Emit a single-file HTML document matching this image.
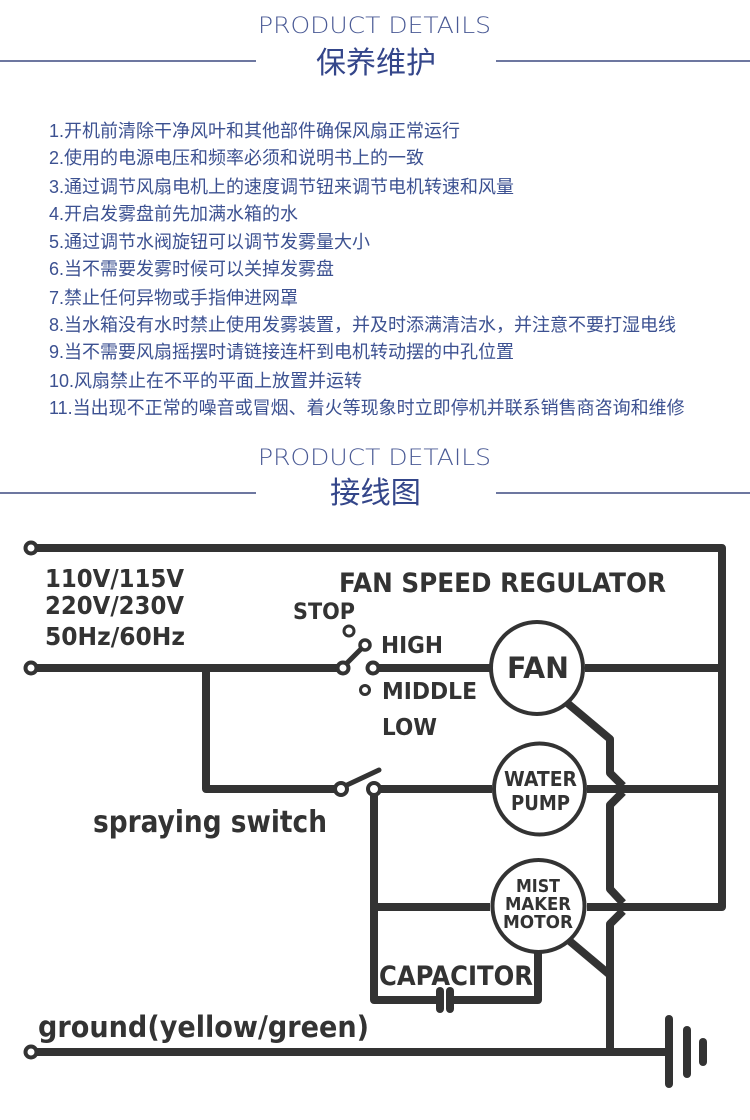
<!DOCTYPE html>
<html>
<head>
<meta charset="utf-8">
<style>
html,body{margin:0;padding:0;background:#fff;}
svg{display:block;}
.hd{font-family:"DejaVu Sans","Liberation Sans",sans-serif;font-weight:200;fill:#4a5a95;}
.cn{font-family:"Liberation Sans","Noto Sans CJK SC",sans-serif;fill:#34468a;}
.li{font-family:"Liberation Sans","Noto Sans CJK SC",sans-serif;font-size:18px;fill:#3c5191;}
.lb{font-family:"DejaVu Sans","Liberation Sans",sans-serif;font-weight:bold;fill:#333;}
</style>
</head>
<body>
<svg width="750" height="1120" viewBox="0 0 750 1120" xmlns="http://www.w3.org/2000/svg">
<rect width="750" height="1120" fill="#fff"/>

<!-- Header 1 -->
<text class="hd" x="258" y="33" font-size="22" textLength="233" lengthAdjust="spacingAndGlyphs">PRODUCT DETAILS</text>
<line x1="0" y1="61" x2="256" y2="61" stroke="#3d4a80" stroke-width="1.6"/>
<line x1="496" y1="61" x2="750" y2="61" stroke="#3d4a80" stroke-width="1.6"/>
<text class="cn" x="316" y="73" font-size="30" textLength="120" lengthAdjust="spacingAndGlyphs">保养维护</text>

<!-- List -->
<text class="li" x="49" y="137">1.开机前清除干净风叶和其他部件确保风扇正常运行</text>
<text class="li" x="49" y="164">2.使用的电源电压和频率必须和说明书上的一致</text>
<text class="li" x="49" y="193">3.通过调节风扇电机上的速度调节钮来调节电机转速和风量</text>
<text class="li" x="49" y="220">4.开启发雾盘前先加满水箱的水</text>
<text class="li" x="49" y="248">5.通过调节水阀旋钮可以调节发雾量大小</text>
<text class="li" x="49" y="275">6.当不需要发雾时候可以关掉发雾盘</text>
<text class="li" x="49" y="304">7.禁止任何异物或手指伸进网罩</text>
<text class="li" x="49" y="331">8.当水箱没有水时禁止使用发雾装置，并及时添满清洁水，并注意不要打湿电线</text>
<text class="li" x="49" y="358">9.当不需要风扇摇摆时请链接连杆到电机转动摆的中孔位置</text>
<text class="li" x="49" y="387">10.风扇禁止在不平的平面上放置并运转</text>
<text class="li" x="49" y="414">11.当出现不正常的噪音或冒烟、着火等现象时立即停机并联系销售商咨询和维修</text>

<!-- Header 2 -->
<text class="hd" x="258" y="465" font-size="22" textLength="233" lengthAdjust="spacingAndGlyphs">PRODUCT DETAILS</text>
<line x1="0" y1="493" x2="256" y2="493" stroke="#3d4a80" stroke-width="1.6"/>
<line x1="496" y1="493" x2="750" y2="493" stroke="#3d4a80" stroke-width="1.6"/>
<text class="cn" x="330" y="503" font-size="30" textLength="91" lengthAdjust="spacingAndGlyphs">接线图</text>

<!-- Diagram wires -->
<g fill="none" stroke="#333" stroke-width="8" stroke-linejoin="round">
  <!-- top wire + right vertical -->
  <path d="M31 548 L722 548 L722 907 L587 907"/>
  <!-- second wire -->
  <line x1="31" y1="668" x2="343" y2="668"/>
  <line x1="373" y1="668" x2="490" y2="668"/>
  <line x1="585" y1="668" x2="722" y2="668"/>
  <!-- branch to spraying switch -->
  <path d="M206 668 L206 789 L341 789"/>
  <line x1="374" y1="789" x2="492" y2="789"/>
  <line x1="587" y1="789" x2="722" y2="789"/>
  <!-- capacitor loop -->
  <path d="M374 789 L374 1000 L437 1000"/>
  <path d="M452 1000 L538 1000 L538 950"/>
  <line x1="374" y1="907" x2="490" y2="907"/>
  <!-- common wire with kinks -->
  <path d="M566 702 L610 739 L610 773 L623 786"/>
  <path d="M623 792 L610 805 L610 889 L623 903"/>
  <path d="M623 911 L610 924 L610 1052"/>
  <line x1="566" y1="938" x2="610" y2="975"/>
  <!-- ground line -->
  <line x1="31" y1="1052" x2="669" y2="1052"/>
</g>

<!-- ground symbol -->
<g stroke="#333" stroke-width="8" stroke-linecap="round">
  <line x1="669" y1="1019" x2="669" y2="1084"/>
  <line x1="687" y1="1030" x2="687" y2="1074"/>
  <line x1="703" y1="1042" x2="703" y2="1062"/>
</g>

<!-- capacitor plates -->
<rect x="436" y="987" width="8" height="26" rx="4" fill="#333"/>
<rect x="446" y="987" width="8" height="26" rx="4" fill="#333"/>

<!-- switch arms -->
<g stroke="#333" stroke-width="5" stroke-linecap="round">
  <line x1="347" y1="663" x2="361" y2="649"/>
  <line x1="347" y1="785" x2="379" y2="770"/>
</g>

<!-- terminals & contacts -->
<g fill="#fff" stroke="#333">
  <circle cx="31" cy="548" r="5.5" stroke-width="4"/>
  <circle cx="31" cy="668" r="5.5" stroke-width="4"/>
  <circle cx="31" cy="1052" r="5.5" stroke-width="4"/>
  <circle cx="343" cy="668" r="5.5" stroke-width="4"/>
  <circle cx="373" cy="668" r="5.5" stroke-width="4"/>
  <circle cx="365" cy="645" r="5" stroke-width="3.5"/>
  <circle cx="349" cy="631" r="5" stroke-width="3"/>
  <circle cx="365" cy="690" r="4.5" stroke-width="3"/>
  <circle cx="341" cy="789" r="6" stroke-width="4"/>
  <circle cx="374" cy="789" r="6" stroke-width="4"/>
  <!-- component circles -->
  <circle cx="537" cy="668" r="46" stroke-width="4"/>
  <circle cx="539.5" cy="789" r="45.5" stroke-width="4"/>
  <circle cx="538.5" cy="906" r="46" stroke-width="4"/>
</g>

<!-- Labels -->
<text class="lb" x="45" y="587" font-size="25" textLength="139" lengthAdjust="spacingAndGlyphs">110V/115V</text>
<text class="lb" x="45" y="614" font-size="25" textLength="139" lengthAdjust="spacingAndGlyphs">220V/230V</text>
<text class="lb" x="45" y="645" font-size="25" textLength="140" lengthAdjust="spacingAndGlyphs">50Hz/60Hz</text>
<text class="lb" x="339" y="592" font-size="27" textLength="327" lengthAdjust="spacingAndGlyphs">FAN SPEED REGULATOR</text>
<text class="lb" x="293" y="619" font-size="22" textLength="62" lengthAdjust="spacingAndGlyphs">STOP</text>
<text class="lb" x="381" y="653" font-size="23" textLength="62" lengthAdjust="spacingAndGlyphs">HIGH</text>
<text class="lb" x="382" y="699" font-size="23" textLength="95" lengthAdjust="spacingAndGlyphs">MIDDLE</text>
<text class="lb" x="382" y="735" font-size="23" textLength="55" lengthAdjust="spacingAndGlyphs">LOW</text>
<text class="lb" x="507" y="678" font-size="29" textLength="62" lengthAdjust="spacingAndGlyphs">FAN</text>
<text class="lb" x="504" y="786" font-size="20" textLength="73" lengthAdjust="spacingAndGlyphs">WATER</text>
<text class="lb" x="511" y="810" font-size="20" textLength="59" lengthAdjust="spacingAndGlyphs">PUMP</text>
<text class="lb" x="516" y="892" font-size="18" textLength="44" lengthAdjust="spacingAndGlyphs">MIST</text>
<text class="lb" x="505" y="910" font-size="18" textLength="66" lengthAdjust="spacingAndGlyphs">MAKER</text>
<text class="lb" x="503" y="928" font-size="18" textLength="70" lengthAdjust="spacingAndGlyphs">MOTOR</text>
<text class="lb" x="93" y="832" font-size="30" textLength="234" lengthAdjust="spacingAndGlyphs">spraying switch</text>
<text class="lb" x="379" y="985" font-size="27" textLength="154" lengthAdjust="spacingAndGlyphs">CAPACITOR</text>
<text class="lb" x="38" y="1037" font-size="29" textLength="331" lengthAdjust="spacingAndGlyphs">ground(yellow/green)</text>
</svg>
</body>
</html>
